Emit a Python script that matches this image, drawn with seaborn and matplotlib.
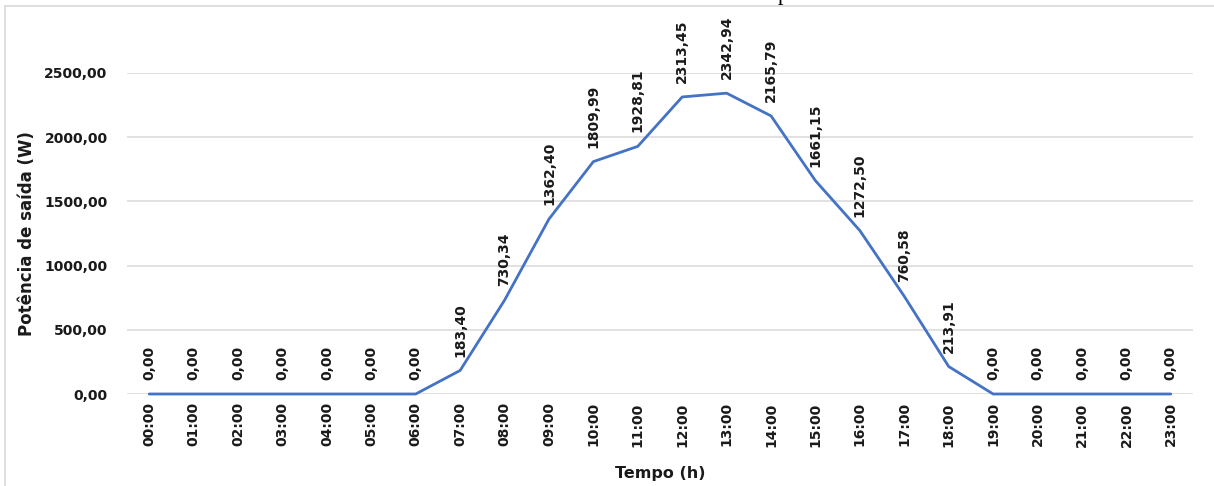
import matplotlib
matplotlib.use("Agg")
import matplotlib.pyplot as plt
from matplotlib.patches import Rectangle
from matplotlib.ticker import FuncFormatter
import pandas as pd
import seaborn as sns

# Hourly output power of the PV system over one day
hours = [f"{h:02d}:00" for h in range(24)]
power_w = [0.00, 0.00, 0.00, 0.00, 0.00, 0.00, 0.00, 183.40, 730.34, 1362.40,
           1809.99, 1928.81, 2313.45, 2342.94, 2165.79, 1661.15, 1272.50, 760.58,
           213.91, 0.00, 0.00, 0.00, 0.00, 0.00]
y_ticks = [0, 500, 1000, 1500, 2000, 2500]

df = pd.DataFrame({"Tempo": hours, "Potencia": power_w})

sns.set_theme(style="white")
plt.rcParams["font.family"] = ["DejaVu Sans"]

W, H = 1214, 486
fig = plt.figure(figsize=(W / 100, H / 100), dpi=100)
fig.patch.set_facecolor("white")

# chart frame
fig.add_artist(Rectangle((5 / W, -0.1), 1.2, (H - 6) / H + 0.1,
                         transform=fig.transFigure, fill=False,
                         edgecolor="#d9d9d9", linewidth=1.2))
# caption line running above the frame
fig.text(783 / W, 1.0, "p", family=["Liberation Serif"], fontsize=16,
         ha="center", va="baseline", color="black")

ax = fig.add_axes([127 / W, (H - 394) / H, (1193 - 127) / W, (394 - 73) / H])
ax.set_facecolor("white")

sns.lineplot(data=df, x="Tempo", y="Potencia", ax=ax, color="#4472C4",
             linewidth=2.0, sort=False, clip_on=False, zorder=3)

ax.set_xlim(-0.5, len(hours) - 0.5)
ax.set_ylim(0, 2500)
ax.set_yticks(y_ticks)
ax.yaxis.set_major_formatter(FuncFormatter(lambda v, p: f"{v:.2f}".replace(".", ",")))
ax.grid(axis="y", color="#d9d9d9", linewidth=1.1)
ax.grid(axis="x", visible=False)
for s in ax.spines.values():
    s.set_visible(False)

ax.tick_params(axis="x", length=0, pad=6, labelsize=10, labelrotation=90)
ax.tick_params(axis="y", length=0, pad=14, labelsize=10)
for lab in ax.get_xticklabels() + ax.get_yticklabels():
    lab.set_fontweight("bold")
    lab.set_color("#1a1a1a")

ax.set_xlabel("Tempo (h)", fontsize=11.5, fontweight="bold", color="#1a1a1a", labelpad=14)
ax.set_ylabel("Potência de saída (W)", fontsize=12, fontweight="bold", color="#1a1a1a", labelpad=6)

# value labels above each hourly point
for i, v in enumerate(power_w):
    ax.annotate(f"{v:.2f}".replace(".", ","), (i, v), xytext=(0, 10),
                textcoords="offset points", rotation=90, ha="center", va="bottom",
                fontsize=10, fontweight="bold", color="#1a1a1a",
                annotation_clip=False)

fig.savefig("out.png", dpi=100, facecolor="white")
